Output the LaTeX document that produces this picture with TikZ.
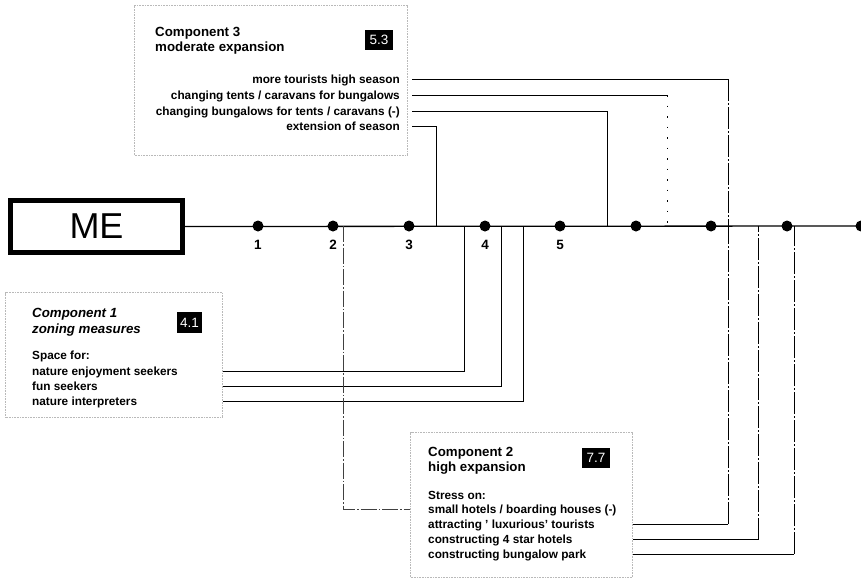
\documentclass[tikz,border=0pt]{standalone}
\usepackage{fontspec}
\setmainfont{Liberation Sans}
\begin{document}
\begin{tikzpicture}[x=1pt,y=-1pt,
  head/.style={font=\bfseries\fontsize{13.3}{16}\selectfont, inner sep=0pt, anchor=west, text height=9.5pt, text depth=0pt},
  itemr/.style={font=\bfseries\fontsize{11.8}{14}\selectfont, inner sep=0pt, text height=8.5pt, text depth=0pt},
  badge/.style={fill=black, text=white, font=\fontsize{13.5}{16}\selectfont, inner sep=0pt, minimum width=28pt, minimum height=20pt},
  cbox/.style={draw=gray!55, line width=1.2pt, dash pattern=on 0.8pt off 0.8pt, inner sep=0pt},
  conn/.style={line width=0.9pt},
  dotc/.style={conn, dash pattern=on 1.5pt off 9pt},
  dashc/.style={line width=0.8pt, dash pattern=on 22pt off 2pt on 2pt off 2pt},
  thinc/.style={line width=0.7pt, black!75, dash pattern=on 16pt off 2pt on 1.5pt off 2pt},
  mainline/.style={line width=1.3pt},
  dotn/.style={circle, fill=black, inner sep=0pt, minimum size=11pt},
  num/.style={font=\bfseries\fontsize{13.5}{15}\selectfont, inner sep=0pt}
]
\useasboundingbox (0,0) rectangle (861,581);

% ME box
\node[draw, line width=5pt, minimum width=172pt, minimum height=52pt, inner sep=0pt,
      font=\fontsize{36}{40}\selectfont] (me) at (96.5,226.5) {ME};

% coordinates on the main line
\coordinate (mA) at (343,226);
\coordinate (mB) at (436,226);
\coordinate (mC) at (464,226);
\coordinate (mD) at (501,226);
\coordinate (mE) at (523,226);
\coordinate (mF) at (607,226);
\coordinate (mG) at (667,226);
\coordinate (mH) at (728,226);
\coordinate (mI) at (758,226);
\coordinate (mJ) at (794,226);
% corners
\coordinate (kG) at (667,95);
\coordinate (kH) at (728,79);
\coordinate (kH2) at (728,524);
\coordinate (kI) at (758,539.5);
\coordinate (kJ) at (794,554);

% dots
\foreach \i/\x in {1/258,2/333,3/409,4/485,5/560,6/636,7/711,8/787,9/861}
  \node[dotn] (d\i) at (\x,226) {};
\draw[mainline] (me.east) -- (d9.center);
\foreach \i in {1,...,5}
  \node[num] (n\i) at ([yshift=-19pt]d\i.center) {\i};

% Component 3
\node[cbox, minimum width=273pt, minimum height=150pt, anchor=north west] (c3box) at (134,5) {};
\node[head] (c3h1) at (155,32) {Component 3};
\node[head] (c3h2) at (155,47) {moderate expansion};
\node[badge] (c3b) at (379,40) {5.3};
\node[itemr, anchor=east] (c3a) at (400,79) {more tourists high season};
\node[itemr, anchor=east] (c3c) at (400,95) {changing tents / caravans for bungalows};
\node[itemr, anchor=east] (c3d) at (400,111) {changing bungalows for tents / caravans (-)};
\node[itemr, anchor=east] (c3e) at (400,126) {extension of season};

% Component 1
\node[cbox, minimum width=217pt, minimum height=125pt, anchor=north west] (c1box) at (5,292) {};
\node[head, font=\bfseries\itshape\fontsize{13.3}{16}\selectfont] (c1h1) at (32,313) {Component 1};
\node[head, font=\bfseries\itshape\fontsize{13.3}{16}\selectfont] (c1h2) at (32,329) {zoning measures};
\node[badge, minimum width=25pt, minimum height=21pt] (c1b) at (189.5,322.5) {4.1};
\node[itemr, anchor=west] (c1s) at (32,355) {Space for:};
\node[itemr, anchor=west] (c1a) at (32,371) {nature enjoyment seekers};
\node[itemr, anchor=west] (c1c) at (32,386) {fun seekers};
\node[itemr, anchor=west] (c1d) at (32,401) {nature interpreters};

% Component 2
\node[cbox, minimum width=222pt, minimum height=145pt, anchor=north west] (c2box) at (410,432) {};
\node[head] (c2h1) at (428,452) {Component 2};
\node[head] (c2h2) at (428,467) {high expansion};
\node[badge, minimum width=28pt, minimum height=20pt] (c2b) at (596,457.5) {7.7};
\node[itemr, anchor=west] (c2s) at (428,495) {Stress on:};
\node[itemr, anchor=west] (c2a) at (428,509.5) {small hotels / boarding houses (-)};
\node[itemr, anchor=west] (c2c) at (428,524) {attracting ' luxurious' tourists};
\node[itemr, anchor=west] (c2d) at (428,539.5) {constructing 4 star hotels};
\node[itemr, anchor=west] (c2e) at (428,554) {constructing bungalow park};

% connectors Component 3
\draw[conn] ([xshift=12pt]c3e.east) -| (mB);
\draw[conn] ([xshift=12pt]c3d.east) -| (mF);
\draw[conn] ([xshift=12pt]c3c.east) -- (kG);
\draw[dotc] (kG) -- (mG);
\draw[conn] ([xshift=12pt]c3a.east) -- (kH);
\draw[dashc] (kH) -- (mH);

% connectors Component 1
\draw[conn] (c1box.east |- c1a) -| (mC);
\draw[conn] (c1box.east |- c1c) -| (mD);
\draw[conn] (c1box.east |- c1d) -| (mE);

% connectors Component 2
\draw[thinc] (mA) |- (c2box.west |- c2a);
\draw[conn] (c2box.east |- c2c) -- (kH2);
\draw[dashc] (kH2) -- (mH);
\draw[conn] (c2box.east |- c2d) -- (kI);
\draw[dashc] (kI) -- (mI);
\draw[conn] (c2box.east |- c2e) -- (kJ);
\draw[dashc] (kJ) -- (mJ);
\end{tikzpicture}
\end{document}
